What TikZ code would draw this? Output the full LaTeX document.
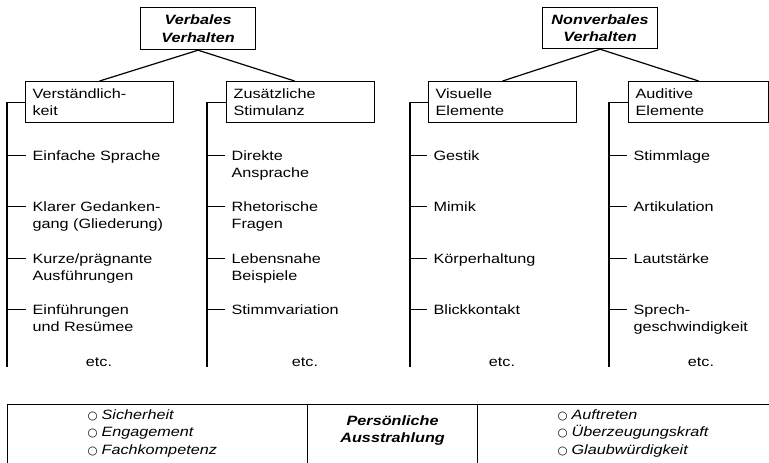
\documentclass[tikz,border=0pt]{standalone}
\usepackage{fontspec}
\setmainfont{Liberation Sans}[FakeStretch=1.2]
\newfontfamily\symfont{DejaVu Sans}
\newcommand\lefttab[1]{\begin{tabular}[t]{@{}l@{}}#1\end{tabular}}
\newcommand\centtab[1]{\begin{tabular}[t]{@{}c@{}}#1\end{tabular}}
\newcommand\bul{{\symfont\fontsize{11.5}{11.5}\selectfont ○}\hspace{4pt}}
\begin{document}
\begin{tikzpicture}[x=1pt,y=-1pt,line width=1.2pt,
  font=\fontsize{13.5}{17.5}\selectfont,
  topbox/.style={draw,anchor=north west,minimum width=115pt,minimum height=42pt,
    font=\fontsize{13.5}{17.5}\selectfont\bfseries\itshape,align=center,inner sep=0pt},
  subbox/.style={draw,anchor=north west,minimum width=148pt,minimum height=41pt,
    text width=134pt,inner xsep=7pt,inner ysep=0pt,align=left},
  item/.style={anchor=base west,inner sep=0pt},
  etcnode/.style={anchor=base,inner sep=0pt},
  cell/.style={draw,anchor=north west,minimum height=70pt,inner sep=0pt}]
\useasboundingbox (0,0) rectangle (769,463);
\clip (0,0) rectangle (769,463);
% top level
\node[topbox] (vv) at (140,7) {Verbales\\Verhalten};
\node[topbox,minimum height=41pt] (nv) at (542,7) {Nonverbales\\Verhalten};
% second level
\node[subbox] (vs) at (25,81) {Verständlich-\\keit};
\node[subbox] (zs) at (226,81) {Zusätzliche\\Stimulanz};
\node[subbox] (ve) at (428,81) {Visuelle\\Elemente};
\node[subbox,minimum width=140pt,text width=126pt] (ae) at (628,81) {Auditive\\Elemente};
\draw (vv.south) -- (vs.north);
\draw (vv.south) -- ([xshift=-6pt]zs.north);
\draw (nv.south) -- (ve.north);
\draw (nv.south) -- (ae.north);
% vertical stems
\coordinate (b1) at (7,367);
\coordinate (b2) at (207,367);
\coordinate (b3) at (410,367);
\coordinate (b4) at (609,367);
\draw (vs.west) -| (b1);
\draw (zs.west) -| (b2);
\draw (ve.west) -| (b3);
\draw (ae.west) -| (b4);
% column 1
\node[item] (a1) at (32,160) {\lefttab{Einfache Sprache}};
\node[item] (a2) at (32,211) {\lefttab{Klarer Gedanken-\\gang (Gliederung)}};
\node[item] (a3) at (32,263) {\lefttab{Kurze/prägnante\\Ausführungen}};
\node[item] (a4) at (32,314) {\lefttab{Einführungen\\und Resümee}};
\node[etcnode] (a5) at (99,366) {etc.};
% column 2
\node[item] (c1) at (231,160) {\lefttab{Direkte\\Ansprache}};
\node[item] (c2) at (231,211) {\lefttab{Rhetorische\\Fragen}};
\node[item] (c3) at (231,263) {\lefttab{Lebensnahe\\Beispiele}};
\node[item] (c4) at (231,314) {\lefttab{Stimmvariation}};
\node[etcnode] (c5) at (305,366) {etc.};
% column 3
\node[item] (d1) at (433,160) {\lefttab{Gestik}};
\node[item] (d2) at (433,211) {\lefttab{Mimik}};
\node[item] (d3) at (433,263) {\lefttab{Körperhaltung}};
\node[item] (d4) at (433,314) {\lefttab{Blickkontakt}};
\node[etcnode] (d5) at (502,366) {etc.};
% column 4
\node[item] (e1) at (633,160) {\lefttab{Stimmlage}};
\node[item] (e2) at (633,211) {\lefttab{Artikulation}};
\node[item] (e3) at (633,263) {\lefttab{Lautstärke}};
\node[item] (e4) at (633,314) {\lefttab{Sprech-\\geschwindigkeit}};
\node[etcnode] (e5) at (701,366) {etc.};
% ticks
\foreach \n/\b in {a1/b1,a2/b1,a3/b1,a4/b1,c1/b2,c2/b2,c3/b2,c4/b2,
                   d1/b3,d2/b3,d3/b3,d4/b3,e1/b4,e2/b4,e3/b4,e4/b4}{
  \coordinate (t) at ([xshift=-6pt,yshift=4.5pt]\n.base west);
  \draw (t) -- (t -| \b);
}
% bottom box
\node[cell,minimum width=300pt] (cl) at (7,404) {};
\node[cell,minimum width=170pt] (cm) at (307,404) {};
\node[cell,minimum width=300pt] (cr) at (477,404) {};
\node[item] (s1) at (87,419) {\lefttab{\bul\textit{Sicherheit}\\\bul\textit{Engagement}\\\bul\textit{Fachkompetenz}}};
\node[etcnode] (pa) at (cm.north |- 0,425) {\centtab{\textbf{\textit{Persönliche}}\\\textbf{\textit{Ausstrahlung}}}};
\node[item] (s2) at (557,419) {\lefttab{\bul\textit{Auftreten}\\\bul\textit{Überzeugungskraft}\\\bul\textit{Glaubwürdigkeit}}};
\end{tikzpicture}
\end{document}
